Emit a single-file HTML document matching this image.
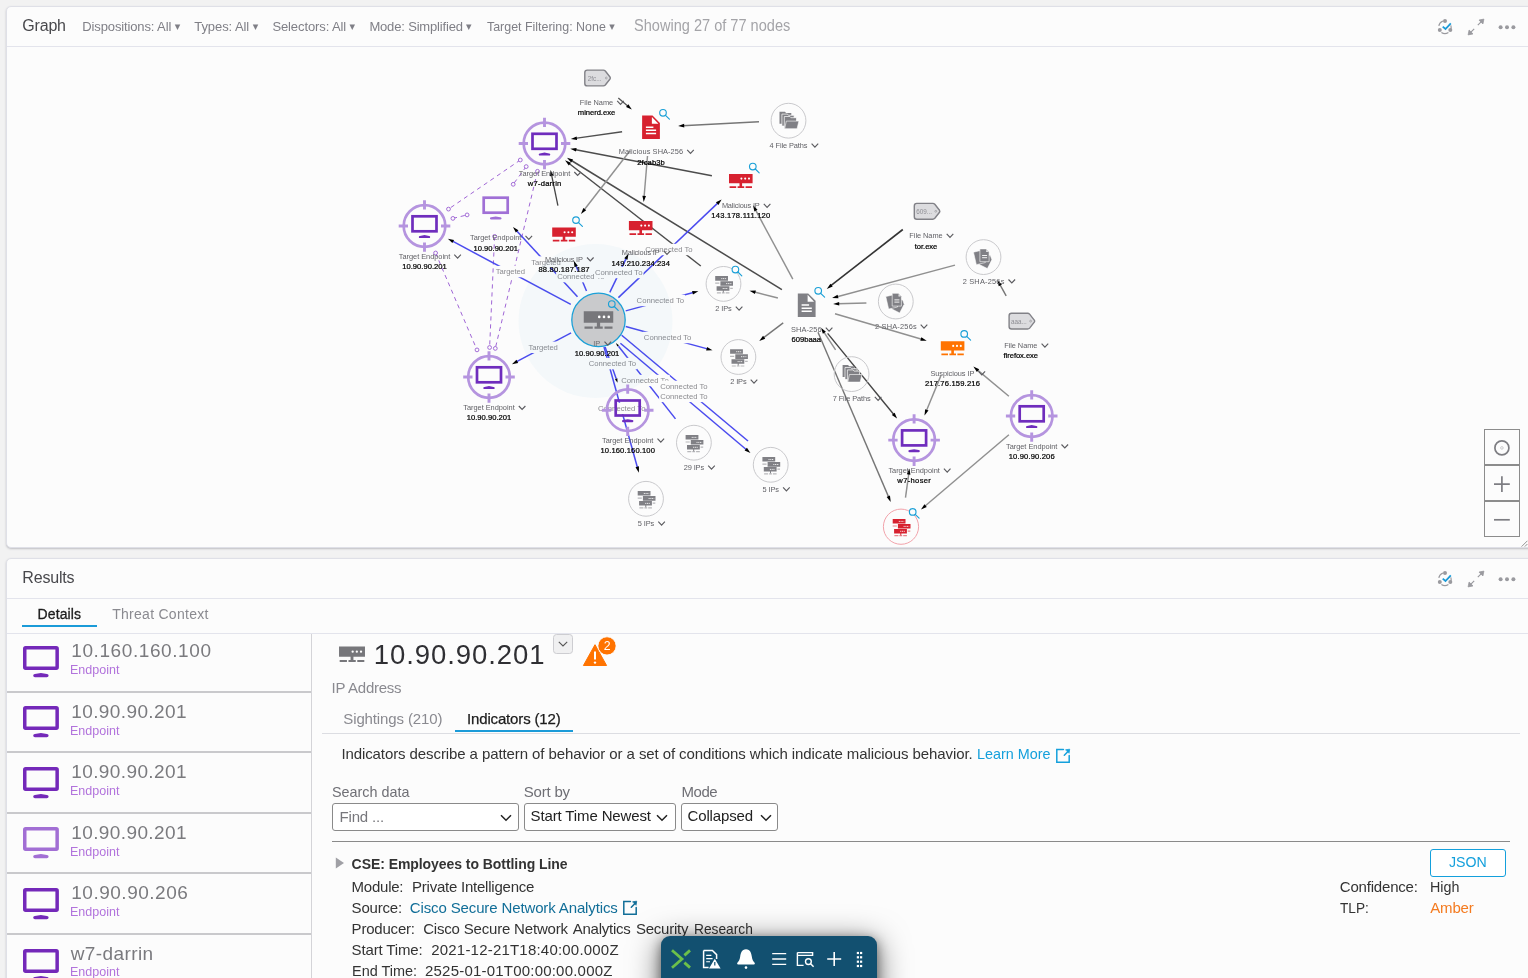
<!DOCTYPE html>
<html lang="en"><head><meta charset="utf-8"><title>Graph</title>
<style>
html,body{margin:0;padding:0}
body{width:1528px;height:978px;overflow:hidden;background:#f2f2f2;font-family:"Liberation Sans", Arial, sans-serif;position:relative}
.a{position:absolute;display:block}
.t{position:absolute;white-space:pre;line-height:1;display:block}
#wrap{position:absolute;left:0;top:0;width:1528px;height:978px;overflow:hidden;will-change:transform;transform:translateZ(0)}
.panel{position:absolute;left:6px;width:1540px;background:#fcfcfc;border:1px solid #dfe0e7;border-radius:5px;box-shadow:0 1px 2px rgba(60,60,80,.28);box-sizing:border-box}
.hl{position:absolute;height:1px;background:#e3e4ec}
.box{position:absolute;box-sizing:border-box;border:1px solid #8a8a8a;border-radius:3px;background:#fff}
svg text{font-family:"Liberation Sans", Arial, sans-serif}
</style></head><body><div id="wrap">
<div class="panel" style="top:6px;height:542px"></div>
<div class="hl" style="left:7px;top:46px;width:1521px"></div>
<div class="panel" style="top:558px;height:440px"></div>
<div class="hl" style="left:7px;top:598px;width:1521px"></div>
<div class="hl" style="left:7px;top:633px;width:1521px"></div>
<svg id="graph" width="1521" height="500" viewBox="7 47 1521 500" style="position:absolute;left:7px;top:47px;font-family:&quot;Liberation Sans&quot;, Arial, sans-serif">
<defs>
<g id="mon"><rect x="-12" y="-9.7" width="24" height="15" fill="none" stroke-width="2.7"/><path d="M-5.7,10.9Q-5.7,10.1 -4.6,9.9L0,9.1L4.6,9.9Q5.7,10.1 5.7,10.9Q5.7,12.1 4.5,12.1H-4.5Q-5.7,12.1 -5.7,10.9Z" stroke="none"/></g>
<g id="target"><circle r="20.8" fill="none" stroke="#b594df" stroke-width="2.7"/><path d="M0,-25.8V-16.5M0,16.5V25.8M-25.8,0H-16.5M16.5,0H25.8" stroke="#b594df" stroke-width="2.9" fill="none"/><use href="#mon" stroke="#6f2dbd" fill="#6f2dbd"/></g>
<g id="endp"><use href="#mon" stroke="#a070d6" fill="#a070d6"/></g>
<g id="ip"><path d="M-11.8,-7H11.8V2.2H1.3V5.2H3.4V7H-3.2V5.2H-1.3V2.2H-11.8Z M-11.2,5.2H-4.6V7H-11.2Z M4.8,5.2H11.2V7H4.8Z"/><circle cx="0.6" cy="-2.4" r="1.05" fill="#fff"/><circle cx="4.4" cy="-2.4" r="1.05" fill="#fff"/><circle cx="8.2" cy="-2.4" r="1.05" fill="#fff"/></g>
<g id="file"><path d="M-8.9,-11.8H1.5L8.9,-4.4V11.8H-8.9Z"/><path d="M0.9,-10.4V-3.5H7.4Z" fill="#fff"/><path d="M-5.1,-0.1H2.4M-5.1,3H5.1M-5.1,6.1H5.1" stroke="#fff" stroke-width="1.5" fill="none"/></g>
<g id="tag"><path d="M-12.9,-5.4Q-12.9,-7.9 -10.4,-7.9H5.6Q6.8,-7.9 7.6,-7L12.3,-1Q13,0 12.3,1L7.6,7Q6.8,7.9 5.6,7.9H-10.4Q-12.9,7.9 -12.9,5.4Z" fill="#dcdcdf" stroke="#818187" stroke-width="1.4" stroke-linejoin="round"/><circle cx="8.6" cy="0" r="0.9" fill="#eee" stroke="#8e8e94" stroke-width=".7"/></g>
<g id="ring"><circle r="17.4" fill="none" stroke="#c6c6c9" stroke-width="0.95"/></g>
<g id="ips"><path d="M-8.3,-7.8H4.5V-3.2H-8.3Z M-3.1,-2.7H9.5V1.9H-3.1Z M-6.9,2.3H5.9V6.8H-6.9Z M-0.7,6.8H0.3V8.5H-0.7Z"/><path d="M-6.6,8.4H-2.6V9.6H-6.6Z M-1.6,8.4H1.2V9.6H-1.6Z M2.2,8.4H5.9V9.6H2.2Z M-8.3,-1.3H-4.2V-0.1H-8.3Z M6.7,3.8H9.3V5H6.7Z" opacity=".55"/><path d="M-2.2,-5.3H3.2M2.6,-0.3H8.2M-0.8,4.6H4.4" stroke="#fff" stroke-width="1" stroke-dasharray="1.1 0.65" fill="none" opacity=".85"/></g>
<g id="folders"><path d="M-9,-9H-3.5L-2.5,-7.8H2.8V3H-9Z"/><path d="M-6.6,-6.6H-1L0,-5.4H5.6V5.4H-6.6Z" stroke="#fff" stroke-width=".7"/><path d="M-4.2,-4.2H1.4L2.4,-3H8V7.8H-4.2Z" stroke="#fff" stroke-width=".7"/><path d="M-2.2,0.4H10.4L8.6,8H-3.8Z" stroke="#fff" stroke-width=".6"/></g>
<g id="shas"><g transform="translate(2.7,3.7) rotate(27)"><path d="M-4.6,-6.4H1.6L4.6,-3.4V6.4H-4.6Z" stroke="#fff" stroke-width=".5"/></g><g transform="translate(-4.1,0.3) rotate(-13)"><path d="M-4.6,-6.4H1.6L4.6,-3.4V6.4H-4.6Z" stroke="#fff" stroke-width=".5"/></g><g transform="translate(1,-1.8)"><path d="M-4.6,-6.4H1.6L4.6,-3.4V6.4H-4.6Z" stroke="#fff" stroke-width=".6"/><path d="M1.7,-5.6V-3.2H4.1Z" fill="#fff" opacity=".85"/><path d="M-2.4,0.2H2.6M-2.4,2.4H2.6" stroke="#fff" stroke-width="1" fill="none" opacity=".9"/></g></g>
<g id="mag" fill="none" stroke="#1ba0d7" stroke-width="1.15" stroke-linecap="round"><circle r="3.3" fill="#fcfcfc"/><path d="M2.5,2.5L6.4,6.3"/></g>
<g id="chev" fill="none" stroke="#5c5c60" stroke-width="1.15"><path d="M-3.3,-1.8L0,1.7L3.3,-1.8"/></g>
<g id="arr"><path d="M0.3,0L-5.8,-1.8L-5.8,1.8Z" fill="#000"/></g>
</defs>
<path d="M520.3,160.0L448.5,209.1" stroke="#a066d6" stroke-width="1" stroke-dasharray="4.2 3.8" fill="none"/>
<circle cx="520.3" cy="160.0" r="1.9" fill="#fcfcfc" stroke="#9a5ed3" stroke-width="0.9"/>
<circle cx="448.5" cy="209.1" r="1.9" fill="#fcfcfc" stroke="#9a5ed3" stroke-width="0.9"/>
<path d="M526.2,166.6L513.2,184.3" stroke="#a066d6" stroke-width="1" stroke-dasharray="4.2 3.8" fill="none"/>
<circle cx="526.2" cy="166.6" r="1.9" fill="#fcfcfc" stroke="#9a5ed3" stroke-width="0.9"/>
<circle cx="513.2" cy="184.3" r="1.9" fill="#fcfcfc" stroke="#9a5ed3" stroke-width="0.9"/>
<path d="M537.5,171.3L495.3,348.4" stroke="#a066d6" stroke-width="1" stroke-dasharray="4.2 3.8" fill="none"/>
<circle cx="537.5" cy="171.3" r="1.9" fill="#fcfcfc" stroke="#9a5ed3" stroke-width="0.9"/>
<circle cx="495.3" cy="348.4" r="1.9" fill="#fcfcfc" stroke="#9a5ed3" stroke-width="0.9"/>
<path d="M452.9,218.4L467.1,214.9" stroke="#a066d6" stroke-width="1" stroke-dasharray="4.2 3.8" fill="none"/>
<circle cx="452.9" cy="218.4" r="1.9" fill="#fcfcfc" stroke="#9a5ed3" stroke-width="0.9"/>
<circle cx="467.1" cy="214.9" r="1.9" fill="#fcfcfc" stroke="#9a5ed3" stroke-width="0.9"/>
<path d="M494.6,236.4L489.6,347.5" stroke="#a066d6" stroke-width="1" stroke-dasharray="4.2 3.8" fill="none"/>
<circle cx="494.6" cy="236.4" r="1.9" fill="#fcfcfc" stroke="#9a5ed3" stroke-width="0.9"/>
<circle cx="489.6" cy="347.5" r="1.9" fill="#fcfcfc" stroke="#9a5ed3" stroke-width="0.9"/>
<path d="M435.6,253.0L477.0,349.9" stroke="#a066d6" stroke-width="1" stroke-dasharray="4.2 3.8" fill="none"/>
<circle cx="435.6" cy="253.0" r="1.9" fill="#fcfcfc" stroke="#9a5ed3" stroke-width="0.9"/>
<circle cx="477.0" cy="349.9" r="1.9" fill="#fcfcfc" stroke="#9a5ed3" stroke-width="0.9"/>
<path d="M618.3,97.9L628.6,106.8" stroke="#555" stroke-width="1.3" fill="none" />
<use href="#arr" transform="translate(631.6,109.4) rotate(40.8)"/>
<path d="M622.1,131.7L575.1,138.4" stroke="#505050" stroke-width="1.4" fill="none" />
<use href="#arr" transform="translate(571.1,139.0) rotate(171.9)"/>
<path d="M759.0,121.7L682.4,125.7" stroke="#767676" stroke-width="1.4" fill="none" />
<use href="#arr" transform="translate(678.4,125.9) rotate(177.0)"/>
<path d="M711.9,175.7L574.5,149.5" stroke="#4c4c4c" stroke-width="1.4" fill="none" />
<use href="#arr" transform="translate(570.6,148.7) rotate(-169.2)"/>
<path d="M781.9,289.6L570.6,160.0" stroke="#4c4c4c" stroke-width="1.5" fill="none" />
<use href="#arr" transform="translate(567.2,157.9) rotate(-148.5)"/>
<path d="M700.8,266.0L568.5,163.0" stroke="#4c4c4c" stroke-width="1.4" fill="none" />
<use href="#arr" transform="translate(565.3,160.5) rotate(-142.1)"/>
<path d="M647.5,156.0L644.0,197.7" stroke="#909090" stroke-width="1.45" fill="none" />
<use href="#arr" transform="translate(643.7,201.7) rotate(94.8)"/>
<path d="M630.0,150.8L583.7,210.5" stroke="#909090" stroke-width="1.45" fill="none" />
<use href="#arr" transform="translate(581.2,213.7) rotate(127.8)"/>
<path d="M557.9,205.7L551.4,174.1" stroke="#444" stroke-width="1.3" fill="none" />
<use href="#arr" transform="translate(550.6,170.2) rotate(-101.6)"/>
<path d="M902.8,229.5L830.2,286.2" stroke="#343434" stroke-width="1.6" fill="none" />
<use href="#arr" transform="translate(827.0,288.7) rotate(142.0)"/>
<path d="M955.0,265.1L836.3,297.0" stroke="#909090" stroke-width="1.45" fill="none" />
<use href="#arr" transform="translate(832.4,298.0) rotate(165.0)"/>
<path d="M866.4,303.0L837.4,303.8" stroke="#909090" stroke-width="1.45" fill="none" />
<use href="#arr" transform="translate(833.4,303.9) rotate(178.4)"/>
<path d="M792.8,279.1L755.1,209.1" stroke="#909090" stroke-width="1.45" fill="none" />
<use href="#arr" transform="translate(753.2,205.6) rotate(-118.3)"/>
<path d="M777.9,298.0L753.7,291.8" stroke="#909090" stroke-width="1.45" fill="none" />
<use href="#arr" transform="translate(749.8,290.8) rotate(-165.6)"/>
<path d="M783.2,322.9L762.7,338.4" stroke="#767676" stroke-width="1.4" fill="none" />
<use href="#arr" transform="translate(759.5,340.8) rotate(142.9)"/>
<path d="M835.0,313.7L922.6,339.5" stroke="#909090" stroke-width="1.45" fill="none" />
<use href="#arr" transform="translate(926.4,340.6) rotate(16.4)"/>
<path d="M827.6,333.4L894.4,415.2" stroke="#444" stroke-width="1.4" fill="none" />
<use href="#arr" transform="translate(896.9,418.3) rotate(50.8)"/>
<path d="M835.6,349.8L823.4,331.3" stroke="#909090" stroke-width="1.45" fill="none" />
<use href="#arr" transform="translate(821.2,328.0) rotate(-123.4)"/>
<path d="M818.0,332.3L889.0,497.9" stroke="#767676" stroke-width="1.4" fill="none" />
<use href="#arr" transform="translate(890.6,501.6) rotate(66.8)"/>
<path d="M940.8,375.9L926.1,411.5" stroke="#909090" stroke-width="1.45" fill="none" />
<use href="#arr" transform="translate(924.6,415.2) rotate(112.4)"/>
<path d="M1008.9,396.3L976.7,369.4" stroke="#909090" stroke-width="1.45" fill="none" />
<use href="#arr" transform="translate(973.6,366.8) rotate(-140.1)"/>
<path d="M1008.9,434.8L924.2,506.8" stroke="#909090" stroke-width="1.45" fill="none" />
<use href="#arr" transform="translate(921.2,509.4) rotate(139.6)"/>
<path d="M905.5,497.6L908.9,472.8" stroke="#909090" stroke-width="1.45" fill="none" />
<use href="#arr" transform="translate(909.4,468.8) rotate(-82.3)"/>
<path d="M1006.2,295.9L999.5,283.9" stroke="#767676" stroke-width="1.4" fill="none" />
<use href="#arr" transform="translate(997.5,280.4) rotate(-119.3)"/>
<path d="M570.8,304.3L451.6,240.7" stroke="#4b4bef" stroke-width="1.5" fill="none" />
<use href="#arr" transform="translate(448.1,238.8) rotate(-151.9)"/>
<path d="M577.5,296.7L515.9,230.0" stroke="#4b4bef" stroke-width="1.5" fill="none" />
<use href="#arr" transform="translate(513.2,227.1) rotate(-132.7)"/>
<path d="M586.5,291.0L575.5,264.8" stroke="#4b4bef" stroke-width="1.5" fill="none" />
<use href="#arr" transform="translate(573.9,261.1) rotate(-112.9)"/>
<path d="M609.8,292.3L626.7,257.4" stroke="#4b4bef" stroke-width="1.5" fill="none" />
<use href="#arr" transform="translate(628.4,253.8) rotate(-64.2)"/>
<path d="M618.4,297.6L718.5,202.4" stroke="#4b4bef" stroke-width="1.5" fill="none" />
<use href="#arr" transform="translate(721.4,199.6) rotate(-43.6)"/>
<path d="M625.7,310.9L694.2,292.3" stroke="#4b4bef" stroke-width="1.5" fill="none" />
<use href="#arr" transform="translate(698.1,291.3) rotate(-15.1)"/>
<path d="M625.7,326.5L708.3,349.1" stroke="#4b4bef" stroke-width="1.5" fill="none" />
<use href="#arr" transform="translate(712.2,350.2) rotate(15.3)"/>
<path d="M621.7,335.2L748.0,441.0" stroke="#4b4bef" stroke-width="1.5" fill="none" />
<path d="M620.4,343.2L747.1,450.3" stroke="#4b4bef" stroke-width="1.5" fill="none" />
<use href="#arr" transform="translate(750.2,452.9) rotate(40.2)"/>
<path d="M675.5,418.9L618.5,346.3" stroke="#4b4bef" stroke-width="1.5" fill="none" />
<use href="#arr" transform="translate(616.0,343.2) rotate(-128.2) scale(0.6)"/>
<path d="M605.1,347.1L616.2,378.8" stroke="#4b4bef" stroke-width="1.5" fill="none" />
<use href="#arr" transform="translate(617.5,382.6) rotate(70.7) scale(0.7)"/>
<path d="M571.1,332.8L515.7,362.2" stroke="#4b4bef" stroke-width="1.5" fill="none" />
<use href="#arr" transform="translate(512.2,364.1) rotate(152.0)"/>
<path d="M604.0,347.0L637.7,468.5" stroke="#4b4bef" stroke-width="1.5" fill="none" />
<use href="#arr" transform="translate(638.8,472.4) rotate(74.5)"/>
<rect x="494.7" y="265.9" width="31.4" height="11.4" fill="#fcfcfc"/>
<text x="510.4" y="274.3" font-size="7.7" fill="#8c8c90" font-weight="400" text-anchor="middle" textLength="29.4" lengthAdjust="spacing">Targeted</text>
<rect x="530.3" y="256.3" width="31.4" height="11.4" fill="#fcfcfc"/>
<text x="546.0" y="264.7" font-size="7.7" fill="#8c8c90" font-weight="400" text-anchor="middle" textLength="29.4" lengthAdjust="spacing">Targeted</text>
<rect x="527.5" y="341.6" width="31.4" height="11.4" fill="#fcfcfc"/>
<text x="543.2" y="350.0" font-size="7.7" fill="#8c8c90" font-weight="400" text-anchor="middle" textLength="29.4" lengthAdjust="spacing">Targeted</text>
<rect x="556.1" y="270.9" width="49.5" height="11.4" fill="#fcfcfc"/>
<text x="580.9" y="279.3" font-size="7.7" fill="#8c8c90" font-weight="400" text-anchor="middle" textLength="47.5" lengthAdjust="spacing">Connected To</text>
<rect x="594.0" y="266.8" width="49.5" height="11.4" fill="#fcfcfc"/>
<text x="618.7" y="275.2" font-size="7.7" fill="#8c8c90" font-weight="400" text-anchor="middle" textLength="47.5" lengthAdjust="spacing">Connected To</text>
<rect x="644.1" y="243.8" width="49.5" height="11.4" fill="#fcfcfc"/>
<text x="668.9" y="252.2" font-size="7.7" fill="#8c8c90" font-weight="400" text-anchor="middle" textLength="47.5" lengthAdjust="spacing">Connected To</text>
<rect x="635.5" y="294.8" width="49.5" height="11.4" fill="#fcfcfc"/>
<text x="660.3" y="303.2" font-size="7.7" fill="#8c8c90" font-weight="400" text-anchor="middle" textLength="47.5" lengthAdjust="spacing">Connected To</text>
<rect x="642.9" y="331.8" width="49.5" height="11.4" fill="#fcfcfc"/>
<text x="667.6" y="340.2" font-size="7.7" fill="#8c8c90" font-weight="400" text-anchor="middle" textLength="47.5" lengthAdjust="spacing">Connected To</text>
<rect x="587.6" y="357.9" width="49.5" height="11.4" fill="#fcfcfc"/>
<text x="612.4" y="366.3" font-size="7.7" fill="#8c8c90" font-weight="400" text-anchor="middle" textLength="47.5" lengthAdjust="spacing">Connected To</text>
<rect x="620.2" y="374.8" width="49.5" height="11.4" fill="#fcfcfc"/>
<text x="645.0" y="383.2" font-size="7.7" fill="#8c8c90" font-weight="400" text-anchor="middle" textLength="47.5" lengthAdjust="spacing">Connected To</text>
<rect x="659.1" y="380.7" width="49.5" height="11.4" fill="#fcfcfc"/>
<text x="683.9" y="389.1" font-size="7.7" fill="#8c8c90" font-weight="400" text-anchor="middle" textLength="47.5" lengthAdjust="spacing">Connected To</text>
<rect x="659.1" y="390.7" width="49.5" height="11.4" fill="#fcfcfc"/>
<text x="683.9" y="399.1" font-size="7.7" fill="#8c8c90" font-weight="400" text-anchor="middle" textLength="47.5" lengthAdjust="spacing">Connected To</text>
<rect x="597.0" y="402.7" width="49.5" height="11.4" fill="#fcfcfc"/>
<text x="621.7" y="411.1" font-size="7.7" fill="#8c8c90" font-weight="400" text-anchor="middle" textLength="47.5" lengthAdjust="spacing">Connected To</text>
<circle cx="595.5" cy="321" r="77" fill="#2a8fc0" fill-opacity="0.035"/>
<use href="#tag" transform="translate(597.7,78.0)" />
<text x="594.7" y="80.7" font-size="6.3" fill="#8e8e94" font-weight="400" text-anchor="middle">2fc...</text>
<text x="596.5" y="105.2" font-size="7.4" fill="#5f5f64" font-weight="400" text-anchor="middle" textLength="33.3" lengthAdjust="spacing">File Name</text>
<use href="#chev" transform="translate(620.5,102.7)"/>
<text x="596.5" y="114.7" font-size="7.6" fill="#000" font-weight="400" text-anchor="middle" textLength="37.3" lengthAdjust="spacing" stroke="#000" stroke-width="0.22">minerd.exe</text>
<use href="#file" transform="translate(651.0,127.3)" fill="#d7212f"/>
<use href="#mag" transform="translate(663.0,112.8)" />
<text x="651.0" y="154.1" font-size="7.4" fill="#5f5f64" font-weight="400" text-anchor="middle" textLength="64.3" lengthAdjust="spacing">Malicious SHA-256</text>
<use href="#chev" transform="translate(690.5,151.6)"/>
<text x="651.0" y="165.1" font-size="7.6" fill="#000" font-weight="400" text-anchor="middle" textLength="27.4" lengthAdjust="spacing" stroke="#000" stroke-width="0.22">2fcab3b</text>
<use href="#ring" transform="translate(788.5,120.7)" />
<use href="#folders" transform="translate(788.5,120.7)" fill="#808085"/>
<text x="788.5" y="148.0" font-size="7.4" fill="#5f5f64" font-weight="400" text-anchor="middle" textLength="38.0" lengthAdjust="spacing">4 File Paths</text>
<use href="#chev" transform="translate(814.9,145.5)"/>
<use href="#target" transform="translate(544.5,143.5)" />
<text x="544.5" y="176.3" font-size="7.4" fill="#5f5f64" font-weight="400" text-anchor="middle" textLength="51.4" lengthAdjust="spacing">Target Endpoint</text>
<use href="#chev" transform="translate(577.6,173.8)"/>
<text x="544.5" y="186.3" font-size="7.6" fill="#000" font-weight="400" text-anchor="middle" textLength="33.6" lengthAdjust="spacing" stroke="#000" stroke-width="0.22">w7-darrin</text>
<use href="#ip" transform="translate(740.8,181.0)" fill="#d7212f"/>
<use href="#mag" transform="translate(752.8,166.5)" />
<text x="740.8" y="208.1" font-size="7.4" fill="#5f5f64" font-weight="400" text-anchor="middle" textLength="37.8" lengthAdjust="spacing">Malicious IP</text>
<use href="#chev" transform="translate(767.1,205.6)"/>
<text x="740.8" y="218.2" font-size="7.6" fill="#000" font-weight="400" text-anchor="middle" textLength="59.0" lengthAdjust="spacing" stroke="#000" stroke-width="0.22">143.178.111.120</text>
<use href="#target" transform="translate(424.5,226.0)" />
<text x="424.5" y="259.0" font-size="7.4" fill="#5f5f64" font-weight="400" text-anchor="middle" textLength="51.4" lengthAdjust="spacing">Target Endpoint</text>
<use href="#chev" transform="translate(457.6,256.5)"/>
<text x="424.5" y="269.2" font-size="7.6" fill="#000" font-weight="400" text-anchor="middle" textLength="44.4" lengthAdjust="spacing" stroke="#000" stroke-width="0.22">10.90.90.201</text>
<use href="#endp" transform="translate(495.7,207.4)" />
<text x="495.7" y="240.1" font-size="7.4" fill="#5f5f64" font-weight="400" text-anchor="middle" textLength="51.4" lengthAdjust="spacing">Target Endpoint</text>
<use href="#chev" transform="translate(528.8,237.6)"/>
<text x="495.7" y="250.9" font-size="7.6" fill="#000" font-weight="400" text-anchor="middle" textLength="44.4" lengthAdjust="spacing" stroke="#000" stroke-width="0.22">10.90.90.201</text>
<use href="#ip" transform="translate(564.0,234.6)" fill="#d7212f"/>
<use href="#mag" transform="translate(576.0,220.1)" />
<text x="564.0" y="261.8" font-size="7.4" fill="#5f5f64" font-weight="400" text-anchor="middle" textLength="37.8" lengthAdjust="spacing">Malicious IP</text>
<use href="#chev" transform="translate(590.3,259.3)"/>
<text x="564.0" y="272.2" font-size="7.6" fill="#000" font-weight="400" text-anchor="middle" textLength="51.2" lengthAdjust="spacing" stroke="#000" stroke-width="0.22">88.80.187.187</text>
<use href="#ip" transform="translate(640.7,228.0)" fill="#d7212f"/>
<text x="640.7" y="255.2" font-size="7.4" fill="#5f5f64" font-weight="400" text-anchor="middle" textLength="37.8" lengthAdjust="spacing">Malicious IP</text>
<use href="#chev" transform="translate(667.0,252.7)"/>
<text x="640.7" y="266.2" font-size="7.6" fill="#000" font-weight="400" text-anchor="middle" textLength="58.4" lengthAdjust="spacing" stroke="#000" stroke-width="0.22">149.210.234.234</text>
<use href="#ring" transform="translate(723.5,283.9)" />
<use href="#ips" transform="translate(723.5,283.9)" fill="#808085"/>
<use href="#mag" transform="translate(735.4,269.5)" />
<text x="723.5" y="311.0" font-size="7.4" fill="#5f5f64" font-weight="400" text-anchor="middle" textLength="16.5" lengthAdjust="spacing">2 IPs</text>
<use href="#chev" transform="translate(739.1,308.5)"/>
<circle cx="598.5" cy="319.9" r="26.7" fill="#c9cacc" stroke="#1ba0d7" stroke-width="1.3"/>
<g transform="translate(598.5,319.9) scale(1.25)"><use href="#ip" fill="#77777b"/></g>
<g fill="none" stroke="#1ba0d7" stroke-width="1.15" stroke-linecap="round" transform="translate(611.8,304)"><circle r="3.3"/><path d="M2.5,2.5L6.4,6.3"/></g>
<text x="596.8" y="345.9" font-size="7.4" fill="#6b6b70" font-weight="400" text-anchor="middle">IP</text>
<use href="#chev" transform="translate(607.8,343.4)" />
<text x="597.1" y="356.2" font-size="7.6" fill="#000" font-weight="400" text-anchor="middle" textLength="44.5" lengthAdjust="spacing" stroke="#000" stroke-width="0.22">10.90.90.201</text>
<use href="#ring" transform="translate(738.4,357.0)" />
<use href="#ips" transform="translate(738.4,357.0)" fill="#808085"/>
<text x="738.4" y="384.0" font-size="7.4" fill="#5f5f64" font-weight="400" text-anchor="middle" textLength="16.5" lengthAdjust="spacing">2 IPs</text>
<use href="#chev" transform="translate(754.0,381.5)"/>
<use href="#target" transform="translate(489.0,377.0)" />
<text x="489.0" y="410.3" font-size="7.4" fill="#5f5f64" font-weight="400" text-anchor="middle" textLength="51.4" lengthAdjust="spacing">Target Endpoint</text>
<use href="#chev" transform="translate(522.1,407.8)"/>
<text x="489.0" y="420.2" font-size="7.6" fill="#000" font-weight="400" text-anchor="middle" textLength="44.4" lengthAdjust="spacing" stroke="#000" stroke-width="0.22">10.90.90.201</text>
<use href="#target" transform="translate(627.7,410.2)" />
<text x="627.7" y="443.0" font-size="7.4" fill="#5f5f64" font-weight="400" text-anchor="middle" textLength="51.4" lengthAdjust="spacing">Target Endpoint</text>
<use href="#chev" transform="translate(660.8,440.5)"/>
<text x="627.7" y="453.1" font-size="7.6" fill="#000" font-weight="400" text-anchor="middle" textLength="54.4" lengthAdjust="spacing" stroke="#000" stroke-width="0.22">10.160.160.100</text>
<use href="#ring" transform="translate(693.9,442.7)" />
<use href="#ips" transform="translate(693.9,442.7)" fill="#808085"/>
<text x="693.9" y="470.0" font-size="7.4" fill="#5f5f64" font-weight="400" text-anchor="middle" textLength="20.5" lengthAdjust="spacing">29 IPs</text>
<use href="#chev" transform="translate(711.5,467.5)"/>
<use href="#ring" transform="translate(770.7,464.8)" />
<use href="#ips" transform="translate(770.7,464.8)" fill="#808085"/>
<text x="770.7" y="491.7" font-size="7.4" fill="#5f5f64" font-weight="400" text-anchor="middle" textLength="16.5" lengthAdjust="spacing">5 IPs</text>
<use href="#chev" transform="translate(786.4,489.2)"/>
<use href="#ring" transform="translate(646.0,498.8)" />
<use href="#ips" transform="translate(646.0,498.8)" fill="#808085"/>
<text x="646.0" y="525.9" font-size="7.4" fill="#5f5f64" font-weight="400" text-anchor="middle" textLength="16.5" lengthAdjust="spacing">5 IPs</text>
<use href="#chev" transform="translate(661.6,523.4)"/>
<use href="#file" transform="translate(806.7,305.2)" fill="#808085"/>
<use href="#mag" transform="translate(818.2,290.8)" />
<text x="806.3" y="332.0" font-size="7.4" fill="#5f5f64" font-weight="400" text-anchor="middle" textLength="30.8" lengthAdjust="spacing">SHA-256</text>
<use href="#chev" transform="translate(829.1,329.5)"/>
<text x="806.3" y="342.2" font-size="7.6" fill="#000" font-weight="400" text-anchor="middle" textLength="29.4" lengthAdjust="spacing" stroke="#000" stroke-width="0.22">609baaa</text>
<use href="#tag" transform="translate(927.2,211.3)" />
<text x="924.2" y="214.0" font-size="6.3" fill="#8e8e94" font-weight="400" text-anchor="middle">609...</text>
<text x="926.0" y="238.1" font-size="7.4" fill="#5f5f64" font-weight="400" text-anchor="middle" textLength="33.3" lengthAdjust="spacing">File Name</text>
<use href="#chev" transform="translate(950.0,235.6)"/>
<text x="926.0" y="249.2" font-size="7.6" fill="#000" font-weight="400" text-anchor="middle" textLength="22.6" lengthAdjust="spacing" stroke="#000" stroke-width="0.22">tor.exe</text>
<use href="#ring" transform="translate(983.5,257.1)" />
<use href="#shas" transform="translate(983.5,257.1)" fill="#808085"/>
<text x="983.5" y="283.8" font-size="7.4" fill="#5f5f64" font-weight="400" text-anchor="middle" textLength="41.7" lengthAdjust="spacing">2 SHA-256s</text>
<use href="#chev" transform="translate(1011.8,281.3)"/>
<use href="#ring" transform="translate(895.8,301.5)" />
<use href="#shas" transform="translate(895.8,301.5)" fill="#808085"/>
<text x="895.8" y="328.9" font-size="7.4" fill="#5f5f64" font-weight="400" text-anchor="middle" textLength="41.7" lengthAdjust="spacing">2 SHA-256s</text>
<use href="#chev" transform="translate(924.0,326.4)"/>
<use href="#tag" transform="translate(1022.0,321.1)" />
<text x="1019.0" y="323.8" font-size="6.3" fill="#8e8e94" font-weight="400" text-anchor="middle">aaa...</text>
<text x="1020.8" y="348.0" font-size="7.4" fill="#5f5f64" font-weight="400" text-anchor="middle" textLength="33.3" lengthAdjust="spacing">File Name</text>
<use href="#chev" transform="translate(1044.9,345.5)"/>
<text x="1020.8" y="358.2" font-size="7.6" fill="#000" font-weight="400" text-anchor="middle" textLength="34.5" lengthAdjust="spacing" stroke="#000" stroke-width="0.22">firefox.exe</text>
<use href="#ip" transform="translate(952.6,348.3)" fill="#ff7300"/>
<use href="#mag" transform="translate(964.2,333.9)" />
<text x="952.4" y="375.7" font-size="7.4" fill="#5f5f64" font-weight="400" text-anchor="middle" textLength="43.9" lengthAdjust="spacing">Suspicious IP</text>
<use href="#chev" transform="translate(981.8,373.2)"/>
<text x="952.4" y="385.9" font-size="7.6" fill="#000" font-weight="400" text-anchor="middle" textLength="55.0" lengthAdjust="spacing" stroke="#000" stroke-width="0.22">217.76.159.216</text>
<use href="#ring" transform="translate(851.6,374.1)" />
<use href="#folders" transform="translate(851.6,374.1)" fill="#808085"/>
<text x="851.7" y="401.1" font-size="7.4" fill="#5f5f64" font-weight="400" text-anchor="middle" textLength="38.0" lengthAdjust="spacing">7 File Paths</text>
<use href="#chev" transform="translate(878.1,398.6)"/>
<use href="#target" transform="translate(914.1,440.1)" />
<text x="914.1" y="472.9" font-size="7.4" fill="#5f5f64" font-weight="400" text-anchor="middle" textLength="51.4" lengthAdjust="spacing">Target Endpoint</text>
<use href="#chev" transform="translate(947.2,470.4)"/>
<text x="914.1" y="483.1" font-size="7.6" fill="#000" font-weight="400" text-anchor="middle" textLength="33.5" lengthAdjust="spacing" stroke="#000" stroke-width="0.22">w7-hoser</text>
<use href="#target" transform="translate(1031.7,416.0)" />
<text x="1031.7" y="448.8" font-size="7.4" fill="#5f5f64" font-weight="400" text-anchor="middle" textLength="51.4" lengthAdjust="spacing">Target Endpoint</text>
<use href="#chev" transform="translate(1064.8,446.3)"/>
<text x="1031.7" y="459.0" font-size="7.6" fill="#000" font-weight="400" text-anchor="middle" textLength="46.0" lengthAdjust="spacing" stroke="#000" stroke-width="0.22">10.90.90.206</text>
<circle cx="901" cy="526.7" r="17.6" fill="none" stroke="#f2a3ab" stroke-width="1"/>
<use href="#ips" transform="translate(901.0,526.7)" fill="#d7212f"/>
<use href="#mag" transform="translate(912.7,511.9)" /></svg>
<span class="t" style="left:174.7px;top:21.2px;font-size:11px;font-family:'DejaVu Sans',sans-serif;color:#7f7f86">▾</span><span class="t" style="left:252.8px;top:21.2px;font-size:11px;font-family:'DejaVu Sans',sans-serif;color:#7f7f86">▾</span><span class="t" style="left:349.6px;top:21.2px;font-size:11px;font-family:'DejaVu Sans',sans-serif;color:#7f7f86">▾</span><span class="t" style="left:466.1px;top:21.2px;font-size:11px;font-family:'DejaVu Sans',sans-serif;color:#7f7f86">▾</span><span class="t" style="left:609.3px;top:21.2px;font-size:11px;font-family:'DejaVu Sans',sans-serif;color:#7f7f86">▾</span>

<svg class="a" style="left:1433.9px;top:15.7px" width="22" height="22" viewBox="-11 -11 22 22" fill="none">
 <path d="M-6.2,-1.2A6.4,6.4 0 0 1 -2,-6M5.8,-1.6A6.4,6.4 0 0 1 6,2M3.4,5.4A6.4,6.4 0 0 1 -3.6,5.4" stroke="#9a9a9f" stroke-width="1.2"/>
 <circle cx="0" cy="-6.1" r="2" fill="#9a9a9f"/><circle cx="-5.2" cy="3" r="2" fill="#9a9a9f"/><circle cx="5.3" cy="3.1" r="2" fill="#9a9a9f"/>
 <path d="M-2.3,-0.4L0.5,2L5.8,-3.6" stroke="#1b9bd8" stroke-width="1.8"/>
</svg>
<svg class="a" style="left:1466px;top:16.7px" width="20" height="20" viewBox="-10 -10 20 20" fill="none" stroke="#9a9a9f" stroke-width="1.2">
 <path d="M1.8,-1.8L5.6,-5.6M-1.8,1.8L-5.6,5.6"/><path d="M7.9,-7.9L3,-6.9L6.9,-3Z M-7.9,7.9L-3,6.9L-6.9,3Z" fill="#9a9a9f" stroke-width=".8" stroke-linejoin="round"/>
</svg>
<svg class="a" style="left:1497px;top:22.7px" width="20" height="8" viewBox="-10 -4 20 8" fill="#9a9a9f">
 <circle cx="-6.4" cy="0.2" r="2"/><circle cx="0" cy="0.2" r="2"/><circle cx="6.4" cy="0.2" r="2"/>
</svg>

<svg class="a" style="left:1433.9px;top:567.7px" width="22" height="22" viewBox="-11 -11 22 22" fill="none">
 <path d="M-6.2,-1.2A6.4,6.4 0 0 1 -2,-6M5.8,-1.6A6.4,6.4 0 0 1 6,2M3.4,5.4A6.4,6.4 0 0 1 -3.6,5.4" stroke="#9a9a9f" stroke-width="1.2"/>
 <circle cx="0" cy="-6.1" r="2" fill="#9a9a9f"/><circle cx="-5.2" cy="3" r="2" fill="#9a9a9f"/><circle cx="5.3" cy="3.1" r="2" fill="#9a9a9f"/>
 <path d="M-2.3,-0.4L0.5,2L5.8,-3.6" stroke="#1b9bd8" stroke-width="1.8"/>
</svg>
<svg class="a" style="left:1466px;top:568.7px" width="20" height="20" viewBox="-10 -10 20 20" fill="none" stroke="#9a9a9f" stroke-width="1.2">
 <path d="M1.8,-1.8L5.6,-5.6M-1.8,1.8L-5.6,5.6"/><path d="M7.9,-7.9L3,-6.9L6.9,-3Z M-7.9,7.9L-3,6.9L-6.9,3Z" fill="#9a9a9f" stroke-width=".8" stroke-linejoin="round"/>
</svg>
<svg class="a" style="left:1497px;top:574.7px" width="20" height="8" viewBox="-10 -4 20 8" fill="#9a9a9f">
 <circle cx="-6.4" cy="0.2" r="2"/><circle cx="0" cy="0.2" r="2"/><circle cx="6.4" cy="0.2" r="2"/>
</svg>
<!-- zoom controls -->
<div class="a" style="left:1484px;top:429px;width:36px;height:108px;box-sizing:border-box;border:1px solid #8c8c8c;background:#fcfcfc"></div>
<div class="a" style="left:1484px;top:464.2px;width:36px;height:1.8px;background:#8c8c8c"></div>
<div class="a" style="left:1484px;top:500px;width:36px;height:1.8px;background:#8c8c8c"></div>
<svg class="a" style="left:1484px;top:429px" width="36" height="108" viewBox="0 0 36 108" fill="none" stroke="#7d7d82" stroke-width="1.7">
 <circle cx="17.9" cy="18.9" r="7"/><circle cx="17.9" cy="18.9" r="1.3" stroke="#b5b5b8" stroke-width=".7"/>
 <path d="M10,55.2H25.8M17.9,47.3V63.1"/><path d="M10,90.8H25.8"/>
</svg>
<svg class="a" style="left:1518px;top:538px" width="10" height="10" viewBox="0 0 10 10" stroke="#777" stroke-width=".8"><path d="M3.6,8.6L9.4,2.8M6.8,8.6L9.4,6"/></svg>
<!-- tabs -->
<div class="a" style="left:22.3px;top:624.6px;width:74.6px;height:2px;background:#1b9bd8"></div>
<div class="a" style="left:311px;top:634px;width:1.4px;height:344px;background:#d4d4d8"></div>
<svg class="a" style="left:23.07px;top:645.95px" width="37" height="33" viewBox="0 0 37 33"><rect x="1.75" y="1.75" width="32.4" height="20.4" rx="0.9" fill="none" stroke="#7429b9" stroke-width="3.5"/><path d="M10.2,29.4Q10.2,28.2 11.8,28L17.9,26.9L24,28Q25.6,28.2 25.6,29.4Q25.6,31.2 23.8,31.2H12Q10.2,31.2 10.2,29.4Z" fill="#7429b9"/></svg>
<div class="a" style="left:7px;top:690.5px;width:304px;height:2.4px;background:#c9c9cc"></div>
<svg class="a" style="left:23.07px;top:706.45px" width="37" height="33" viewBox="0 0 37 33"><rect x="1.75" y="1.75" width="32.4" height="20.4" rx="0.9" fill="none" stroke="#7429b9" stroke-width="3.5"/><path d="M10.2,29.4Q10.2,28.2 11.8,28L17.9,26.9L24,28Q25.6,28.2 25.6,29.4Q25.6,31.2 23.8,31.2H12Q10.2,31.2 10.2,29.4Z" fill="#7429b9"/></svg>
<div class="a" style="left:7px;top:751.0px;width:304px;height:2.4px;background:#c9c9cc"></div>
<svg class="a" style="left:23.07px;top:766.95px" width="37" height="33" viewBox="0 0 37 33"><rect x="1.75" y="1.75" width="32.4" height="20.4" rx="0.9" fill="none" stroke="#7429b9" stroke-width="3.5"/><path d="M10.2,29.4Q10.2,28.2 11.8,28L17.9,26.9L24,28Q25.6,28.2 25.6,29.4Q25.6,31.2 23.8,31.2H12Q10.2,31.2 10.2,29.4Z" fill="#7429b9"/></svg>
<div class="a" style="left:7px;top:811.5px;width:304px;height:2.4px;background:#c9c9cc"></div>
<svg class="a" style="left:23.07px;top:827.45px" width="37" height="33" viewBox="0 0 37 33"><rect x="1.75" y="1.75" width="32.4" height="20.4" rx="0.9" fill="none" stroke="#a26fd4" stroke-width="3.5"/><path d="M10.2,29.4Q10.2,28.2 11.8,28L17.9,26.9L24,28Q25.6,28.2 25.6,29.4Q25.6,31.2 23.8,31.2H12Q10.2,31.2 10.2,29.4Z" fill="#a26fd4"/></svg>
<div class="a" style="left:7px;top:872.0px;width:304px;height:2.4px;background:#c9c9cc"></div>
<svg class="a" style="left:23.07px;top:887.95px" width="37" height="33" viewBox="0 0 37 33"><rect x="1.75" y="1.75" width="32.4" height="20.4" rx="0.9" fill="none" stroke="#7429b9" stroke-width="3.5"/><path d="M10.2,29.4Q10.2,28.2 11.8,28L17.9,26.9L24,28Q25.6,28.2 25.6,29.4Q25.6,31.2 23.8,31.2H12Q10.2,31.2 10.2,29.4Z" fill="#7429b9"/></svg>
<div class="a" style="left:7px;top:932.5px;width:304px;height:2.4px;background:#c9c9cc"></div>
<svg class="a" style="left:23.07px;top:949.45px" width="37" height="33" viewBox="0 0 37 33"><rect x="1.75" y="1.75" width="32.4" height="20.4" rx="0.9" fill="none" stroke="#7429b9" stroke-width="3.5"/><path d="M10.2,29.4Q10.2,28.2 11.8,28L17.9,26.9L24,28Q25.6,28.2 25.6,29.4Q25.6,31.2 23.8,31.2H12Q10.2,31.2 10.2,29.4Z" fill="#7429b9"/></svg>
<!-- details header -->
<svg class="a" style="left:338px;top:644.7px" width="28" height="19" viewBox="-14 -9.5 28 19"><g transform="scale(1.1) translate(0,-0.2)"><path fill="#77777b" d="M-11.8,-7H11.8V2.2H1.3V5.2H3.4V7H-3.2V5.2H-1.3V2.2H-11.8Z M-11.2,5.2H-4.6V7H-11.2Z M4.8,5.2H11.2V7H4.8Z"/><circle cx="0.6" cy="-2.4" r="1.05" fill="#fff"/><circle cx="4.4" cy="-2.4" r="1.05" fill="#fff"/><circle cx="8.2" cy="-2.4" r="1.05" fill="#fff"/></g></svg>
<div class="a" style="left:553px;top:634px;width:19.6px;height:19.6px;box-sizing:border-box;border:1px solid #cdcdd1;border-radius:3.5px;background:#f0f0f1"></div>
<svg class="a" style="left:557.8px;top:641px" width="10" height="6" viewBox="0 0 10 6" fill="none" stroke="#555" stroke-width="1.1"><path d="M0.8,0.8L5,5L9.2,0.8"/></svg>
<svg class="a" style="left:582px;top:635px" width="36" height="33" viewBox="582 635 36 33"><path d="M595,644.7L606.6,665.5H583.4Z" fill="#ff7300" stroke="#ff7300" stroke-width="1" stroke-linejoin="round"/><path d="M595,651.6V659.6" stroke="#fff" stroke-width="2"/><circle cx="595" cy="662.6" r="1.2" fill="#fff"/><circle cx="607" cy="645.9" r="9.1" fill="#ff7300" stroke="#fcfcfc" stroke-width=".8"/></svg>
<div class="a" style="left:454.8px;top:730.2px;width:118px;height:2px;background:#1b9bd8"></div>
<div class="hl" style="left:322px;top:733px;width:1198px;background:#dcdde2"></div>
<svg class="a" style="left:1056px;top:748px" width="15" height="16" viewBox="0 0 15 16" fill="none" stroke="#14a0dc" stroke-width="1.5" stroke-linecap="round"><path d="M7.4,1.55H0.8V14.15H13.2V7.4"/><path d="M8.3,7.2L12,3.4"/><path d="M9.9,1.7L13.7,1.2L13.1,4.9Z" fill="#14a0dc" stroke-width=".8" stroke-linejoin="round"/></svg>
<div class="box" style="left:332px;top:803px;width:187px;height:27.5px"></div>
<div class="box" style="left:524px;top:803px;width:152px;height:27.5px"></div>
<div class="box" style="left:681px;top:803px;width:97px;height:27.5px"></div>
<svg class="a" style="left:499.5px;top:813.5px" width="12" height="8" viewBox="0 0 12 8" fill="none" stroke="#222" stroke-width="1.5"><path d="M1,1.2L6,6.2L11,1.2"/></svg><svg class="a" style="left:655.5px;top:813.5px" width="12" height="8" viewBox="0 0 12 8" fill="none" stroke="#222" stroke-width="1.5"><path d="M1,1.2L6,6.2L11,1.2"/></svg><svg class="a" style="left:759.5px;top:813.5px" width="12" height="8" viewBox="0 0 12 8" fill="none" stroke="#222" stroke-width="1.5"><path d="M1,1.2L6,6.2L11,1.2"/></svg>
<div class="a" style="left:332px;top:841px;width:1178px;height:1.3px;background:#8a8a8a"></div>
<svg class="a" style="left:334.5px;top:857px" width="10" height="12" viewBox="0 0 10 12"><path d="M0.8,0.6L9,6L0.8,11.4Z" fill="#a0a0a5"/></svg>
<svg class="a" style="left:623.15px;top:900.05px" width="15" height="16" viewBox="0 0 15 16" fill="none" stroke="#116e98" stroke-width="1.5" stroke-linecap="round"><path d="M7.4,1.55H0.8V14.15H13.2V7.4"/><path d="M8.3,7.2L12,3.4"/><path d="M9.9,1.7L13.7,1.2L13.1,4.9Z" fill="#116e98" stroke-width=".8" stroke-linejoin="round"/></svg>
<div class="a" style="left:1430px;top:849px;width:75.5px;height:28px;box-sizing:border-box;border:1.3px solid #14a0dc;border-radius:3px;background:#fff"></div>
<span class="t" style="left:22.30px;top:17.76px;font-size:16px;font-weight:400;color:#48484c;letter-spacing:-0.192px;">Graph</span>
<span class="t" style="left:82.30px;top:20.40px;font-size:13px;font-weight:400;color:#7f7f86;letter-spacing:-0.128px;">Dispositions: All</span>
<span class="t" style="left:194.30px;top:20.40px;font-size:13px;font-weight:400;color:#7f7f86;letter-spacing:-0.082px;">Types: All</span>
<span class="t" style="left:272.40px;top:20.40px;font-size:13px;font-weight:400;color:#7f7f86;letter-spacing:-0.104px;">Selectors: All</span>
<span class="t" style="left:369.40px;top:20.40px;font-size:13px;font-weight:400;color:#7f7f86;letter-spacing:-0.167px;">Mode: Simplified</span>
<span class="t" style="left:486.60px;top:20.40px;font-size:13px;font-weight:400;color:#7f7f86;letter-spacing:0.000px;transform:scaleX(0.9559);transform-origin:0 0;">Target Filtering: None</span>
<span class="t" style="left:633.60px;top:17.69px;font-size:15.6px;font-weight:400;color:#a4a4a8;letter-spacing:0.000px;transform:scaleX(0.9340);transform-origin:0 0;">Showing 27 of 77 nodes</span>
<span class="t" style="left:22.30px;top:569.96px;font-size:16px;font-weight:400;color:#48484c;letter-spacing:-0.177px;">Results</span>
<span class="t" style="left:37.60px;top:606.95px;font-size:14px;font-weight:400;color:#1c1c1c;letter-spacing:0.101px;-webkit-text-stroke:.3px #1c1c1c;">Details</span>
<span class="t" style="left:112.20px;top:606.95px;font-size:14px;font-weight:400;color:#8a8a90;letter-spacing:0.276px;">Threat Context</span>
<span class="t" style="left:71.30px;top:641.42px;font-size:19px;font-weight:400;color:#7a7a7e;letter-spacing:0.586px;">10.160.160.100</span>
<span class="t" style="left:70.40px;top:663.10px;font-size:13px;font-weight:400;color:#b273dc;letter-spacing:0.000px;transform:scaleX(0.9624);transform-origin:0 0;">Endpoint</span>
<span class="t" style="left:71.30px;top:701.92px;font-size:19px;font-weight:400;color:#7a7a7e;letter-spacing:0.386px;">10.90.90.201</span>
<span class="t" style="left:70.40px;top:723.60px;font-size:13px;font-weight:400;color:#b273dc;letter-spacing:0.000px;transform:scaleX(0.9624);transform-origin:0 0;">Endpoint</span>
<span class="t" style="left:71.30px;top:762.42px;font-size:19px;font-weight:400;color:#7a7a7e;letter-spacing:0.386px;">10.90.90.201</span>
<span class="t" style="left:70.40px;top:784.10px;font-size:13px;font-weight:400;color:#b273dc;letter-spacing:0.000px;transform:scaleX(0.9624);transform-origin:0 0;">Endpoint</span>
<span class="t" style="left:71.30px;top:822.92px;font-size:19px;font-weight:400;color:#7a7a7e;letter-spacing:0.386px;">10.90.90.201</span>
<span class="t" style="left:70.40px;top:844.60px;font-size:13px;font-weight:400;color:#b273dc;letter-spacing:0.000px;transform:scaleX(0.9624);transform-origin:0 0;">Endpoint</span>
<span class="t" style="left:71.30px;top:883.42px;font-size:19px;font-weight:400;color:#7a7a7e;letter-spacing:0.504px;">10.90.90.206</span>
<span class="t" style="left:70.40px;top:905.10px;font-size:13px;font-weight:400;color:#b273dc;letter-spacing:0.000px;transform:scaleX(0.9624);transform-origin:0 0;">Endpoint</span>
<span class="t" style="left:70.70px;top:943.92px;font-size:19px;font-weight:400;color:#7a7a7e;letter-spacing:0.400px;">w7-darrin</span>
<span class="t" style="left:70.40px;top:965.10px;font-size:13px;font-weight:400;color:#b273dc;letter-spacing:0.000px;transform:scaleX(0.9624);transform-origin:0 0;">Endpoint</span>
<span class="t" style="left:373.80px;top:641.02px;font-size:27.5px;font-weight:400;color:#2f2f33;letter-spacing:0.929px;">10.90.90.201</span>
<span class="t" style="left:331.60px;top:679.70px;font-size:15px;font-weight:400;color:#8a8a90;letter-spacing:-0.253px;">IP Address</span>
<span class="t" style="left:343.30px;top:711.30px;font-size:15px;font-weight:400;color:#8a8a90;letter-spacing:-0.129px;">Sightings (210)</span>
<span class="t" style="left:467.00px;top:711.30px;font-size:15px;font-weight:400;color:#1c1c1c;letter-spacing:-0.155px;-webkit-text-stroke:.25px #1c1c1c;">Indicators (12)</span>
<span class="t" style="left:341.40px;top:745.60px;font-size:15px;font-weight:400;color:#333;letter-spacing:-0.092px;">Indicators describe a pattern of behavior or a set of conditions which indicate malicious behavior.</span>
<span class="t" style="left:977.30px;top:745.60px;font-size:15px;font-weight:400;color:#14a0dc;letter-spacing:0.000px;transform:scaleX(0.9580);transform-origin:0 0;">Learn More</span>
<span class="t" style="left:331.60px;top:784.30px;font-size:15px;font-weight:400;color:#6f6f75;letter-spacing:0.000px;transform:scaleX(0.9581);transform-origin:0 0;">Search data</span>
<span class="t" style="left:523.70px;top:784.30px;font-size:15px;font-weight:400;color:#6f6f75;letter-spacing:-0.189px;">Sort by</span>
<span class="t" style="left:681.40px;top:784.30px;font-size:15px;font-weight:400;color:#6f6f75;letter-spacing:-0.410px;">Mode</span>
<span class="t" style="left:339.50px;top:808.60px;font-size:15px;font-weight:400;color:#77777c;letter-spacing:-0.166px;">Find ...</span>
<span class="t" style="left:530.60px;top:808.00px;font-size:15px;font-weight:400;color:#222;letter-spacing:-0.134px;">Start Time Newest</span>
<span class="t" style="left:687.60px;top:808.00px;font-size:15px;font-weight:400;color:#222;letter-spacing:-0.165px;">Collapsed</span>
<span class="t" style="left:351.60px;top:857.35px;font-size:14px;font-weight:700;color:#333;letter-spacing:-0.060px;">CSE: Employees to Bottling Line</span>
<span class="t" style="left:351.60px;top:879.30px;font-size:15px;font-weight:400;color:#333;letter-spacing:-0.246px;">Module:</span>
<span class="t" style="left:412.00px;top:879.30px;font-size:15px;font-weight:400;color:#333;letter-spacing:-0.229px;">Private Intelligence</span>
<span class="t" style="left:351.60px;top:900.30px;font-size:15px;font-weight:400;color:#333;letter-spacing:-0.184px;">Source:</span>
<span class="t" style="left:409.80px;top:900.30px;font-size:15px;font-weight:400;color:#116e98;letter-spacing:-0.129px;">Cisco Secure Network Analytics</span>
<span class="t" style="left:351.60px;top:921.10px;font-size:15px;font-weight:400;color:#333;letter-spacing:-0.206px;">Producer:</span>
<span class="t" style="left:423.20px;top:921.10px;font-size:15px;font-weight:400;color:#333;letter-spacing:-0.189px;">Cisco Secure Network</span>
<span class="t" style="left:572.70px;top:921.10px;font-size:15px;font-weight:400;color:#333;letter-spacing:-0.241px;">Analytics</span>
<span class="t" style="left:636.00px;top:921.10px;font-size:15px;font-weight:400;color:#333;letter-spacing:-0.255px;">Security</span>
<span class="t" style="left:693.60px;top:921.10px;font-size:15px;font-weight:400;color:#333;letter-spacing:0.000px;transform:scaleX(0.9174);transform-origin:0 0;">Research</span>
<span class="t" style="left:351.60px;top:941.90px;font-size:15px;font-weight:400;color:#333;letter-spacing:-0.153px;">Start Time:</span>
<span class="t" style="left:431.20px;top:941.90px;font-size:15px;font-weight:400;color:#333;letter-spacing:0.207px;">2021-12-21T18:40:00.000Z</span>
<span class="t" style="left:351.60px;top:962.70px;font-size:15px;font-weight:400;color:#333;letter-spacing:0.000px;transform:scaleX(0.9625);transform-origin:0 0;">End Time:</span>
<span class="t" style="left:425.00px;top:962.70px;font-size:15px;font-weight:400;color:#333;letter-spacing:0.207px;">2525-01-01T00:00:00.000Z</span>
<span class="t" style="left:1448.80px;top:854.20px;font-size:15px;font-weight:400;color:#14a0dc;letter-spacing:0.000px;transform:scaleX(0.9446);transform-origin:0 0;">JSON</span>
<span class="t" style="left:1339.80px;top:879.30px;font-size:15px;font-weight:400;color:#333;letter-spacing:-0.196px;">Confidence:</span>
<span class="t" style="left:1430.20px;top:879.30px;font-size:15px;font-weight:400;color:#333;letter-spacing:0.000px;transform:scaleX(0.9527);transform-origin:0 0;">High</span>
<span class="t" style="left:1339.80px;top:900.30px;font-size:15px;font-weight:400;color:#333;letter-spacing:0.000px;transform:scaleX(0.9089);transform-origin:0 0;">TLP:</span>
<span class="t" style="left:1430.20px;top:900.30px;font-size:15px;font-weight:400;color:#f47b20;letter-spacing:-0.147px;">Amber</span>
<span class="t" style="left:603.65px;top:639.69px;font-size:12.3px;font-weight:400;color:#fff;letter-spacing:0.000px;">2</span>
<!-- ribbon -->
<div class="a" style="left:661px;top:936px;width:216px;height:80px;background:#125070;border-radius:9px 9px 0 0;box-shadow:0 3px 12px rgba(0,0,0,.45),0 6px 30px 2px rgba(0,0,0,.5)"></div>
<svg class="a" style="left:661px;top:936px" width="216" height="42" viewBox="661 936 216 42" fill="none">
 <path d="M672,950.2L682,959L672,967.8M690,950.4L684.4,955.4M690,967.6L684.4,962.6" stroke="#6cc04a" stroke-width="2.8" stroke-linejoin="miter"/>
 <path d="M703.6,950.4H712.4L716.6,954.6V959M703.6,950.4V967.6H708.6" stroke="#fff" stroke-width="1.5"/><path d="M706.2,955.4H711.4M706.2,958.6H712.6M706.2,961.8H710" stroke="#fff" stroke-width="1.1"/><path d="M714.8,958.8L720.6,968.6H709Z" fill="#fff"/><path d="M714.8,962V965.4" stroke="#125070" stroke-width="1.2"/>
 <path d="M746,949.2C741.6,949.2 740.6,953.4 740.2,956.6C739.8,960 738.6,961.4 737.2,963Q736.8,964.4 738,964.4H754Q755.2,964.4 754.8,963C753.4,961.4 752.2,960 751.8,956.6C751.4,953.4 750.4,949.2 746,949.2Z" fill="#fff"/><circle cx="746" cy="967.6" r="1.3" fill="#fff"/>
 <path d="M772.2,953.6H786.2M772.2,959H786.2M772.2,964.4H786.2" stroke="#fff" stroke-width="1.4"/>
 <path d="M797.4,952.6H812.6V956M797.4,952.6V965.4H803.6M797.4,955.4H812.6" stroke="#fff" stroke-width="1.4"/><circle cx="808.4" cy="961.6" r="2.9" stroke="#fff" stroke-width="1.4"/><path d="M810.6,963.8L813.6,966.8" stroke="#fff" stroke-width="1.5"/>
 <path d="M827.2,959H841.2M834.2,952V966" stroke="#fff" stroke-width="1.6"/>
 <g fill="#fff"><rect x="856.8" y="951.9" width="2.2" height="2.2"/><rect x="860.0" y="951.9" width="2.2" height="2.2"/><rect x="856.8" y="956.2" width="2.2" height="2.2"/><rect x="860.0" y="956.2" width="2.2" height="2.2"/><rect x="856.8" y="960.6" width="2.2" height="2.2"/><rect x="860.0" y="960.6" width="2.2" height="2.2"/><rect x="856.8" y="964.9" width="2.2" height="2.2"/><rect x="860.0" y="964.9" width="2.2" height="2.2"/></g>
</svg>
</div></body></html>
